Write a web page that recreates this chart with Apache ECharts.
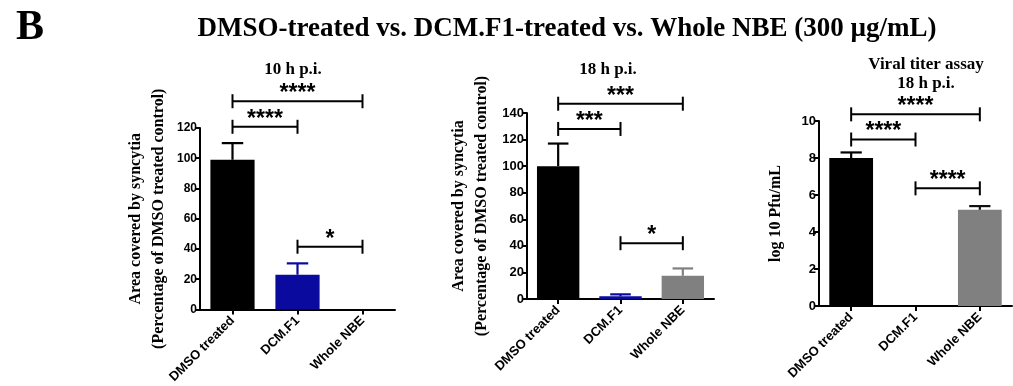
<!DOCTYPE html>
<html>
<head>
<meta charset="utf-8">
<script src="https://cdn.jsdelivr.net/npm/echarts@6/dist/echarts.min.js"></script>
<style>
html,body{margin:0;padding:0;background:#fff;}
#chart{width:1013px;height:386px;}
</style>
</head>
<body>
<div id="chart"></div>
<script>
// ---------- data ----------
var categories = ['DMSO treated', 'DCM.F1', 'Whole NBE'];

var p1Title = '10 h p.i.';
var p1Means = [99, 23, 0];
var p1Sem   = [11, 7.5, 0];
var p1Ticks = [0, 20, 40, 60, 80, 100, 120];
var p1Brackets = [[0, 2, 137.7], [0, 1, 120.8], [1, 2, 41.5]];
var p1Stars = ['****', '****', '*'];

var p2Title = '18 h p.i.';
var p2Means = [100, 2, 17.5];
var p2Sem   = [17, 1.5, 5.5];
var p2Ticks = [0, 20, 40, 60, 80, 100, 120, 140];
var p2Brackets = [[0, 2, 147], [0, 1, 128], [1, 2, 42]];
var p2Stars = ['***', '***', '*'];

var p3Title = 'Viral titer assay\n18 h p.i.';
var p3Means = [8.0, 0, 5.2];
var p3Sem   = [0.3, 0, 0.2];
var p3Ticks = [0, 2, 4, 6, 8, 10];
var p3Brackets = [[0, 2, 10.36], [0, 1, 9.0], [1, 2, 6.36]];
var p3Stars = ['****', '****', '****'];

var mainTitle = 'DMSO-treated vs. DCM.F1-treated vs. Whole NBE (300 \u00b5g/mL)';
var panelLetter = 'B';
var yName12 = 'Area covered by syncytia\n(Percentage of DMSO treated control)';
var yName3 = 'log 10 Pfu/mL';

// ---------- styles ----------
var barColors = ['#000000', '#0a0a9e', '#808080'];
var errColors1 = ['#000000', '#0a0a9e', '#808080'];
var errColors3 = ['#000000', '#0a0a9e', '#111111'];
var serif = '"Liberation Serif", "Times New Roman", serif';
var sans = '"Liberation Sans", Arial, sans-serif';

var chart = echarts.init(document.getElementById('chart'), null, {renderer: 'canvas'});

function barSeries(idx, means) {
  return {
    type: 'bar', xAxisIndex: idx, yAxisIndex: idx,
    barWidth: '68%',
    data: means.map(function (v, i) {
      return {value: v, itemStyle: {color: barColors[i]}};
    }),
    silent: true, animation: false
  };
}

function errSeries(idx, means, sem, colors) {
  return {
    type: 'custom', xAxisIndex: idx, yAxisIndex: idx,
    animation: false, silent: true, z: 3,
    data: means.map(function (v, i) { return [i, v, sem[i]]; }),
    renderItem: function (params, api) {
      var i = api.value(0), m = api.value(1), e = api.value(2);
      if (!e) return null;
      var p0 = api.coord([i, m]);
      var p1 = api.coord([i, m + e]);
      var half = api.size([1, 0])[0] * 0.165;
      var c = colors[i];
      return {
        type: 'group',
        children: [
          {type: 'line', shape: {x1: p0[0], y1: p0[1], x2: p1[0], y2: p1[1]}, style: {stroke: c, lineWidth: 2.2}},
          {type: 'line', shape: {x1: p1[0] - half, y1: p1[1], x2: p1[0] + half, y2: p1[1]}, style: {stroke: c, lineWidth: 2.2}}
        ]
      };
    }
  };
}

function bracketSeries(idx, brackets, stars) {
  return {
    type: 'custom', xAxisIndex: idx, yAxisIndex: idx,
    animation: false, silent: true, z: 4,
    data: brackets,
    renderItem: function (params, api) {
      var a = api.coord([api.value(0), api.value(2)]);
      var b = api.coord([api.value(1), api.value(2)]);
      var cap = 7;
      var st = {stroke: '#000', lineWidth: 2};
      return {
        type: 'group',
        children: [
          {type: 'line', shape: {x1: a[0], y1: a[1], x2: b[0], y2: b[1]}, style: st},
          {type: 'line', shape: {x1: a[0], y1: a[1] - cap, x2: a[0], y2: a[1] + cap}, style: st},
          {type: 'line', shape: {x1: b[0], y1: b[1] - cap, x2: b[0], y2: b[1] + cap}, style: st},
          {type: 'text', style: {
            text: stars[params.dataIndex], x: (a[0] + b[0]) / 2, y: a[1] + 4,
            textAlign: 'center', textVerticalAlign: 'bottom',
            fontSize: 23, fontWeight: 'bold', fontFamily: sans, fill: '#000'
          }}
        ]
      };
    }
  };
}

function xAxis(idx) {
  return {
    type: 'category', gridIndex: idx, data: categories,
    axisLine: {lineStyle: {color: '#000', width: 2}},
    axisTick: {show: true, alignWithLabel: true, length: 5, lineStyle: {color: '#000', width: 2}},
    axisLabel: {rotate: 45, interval: 0, margin: 9, color: '#000', fontSize: 13, fontWeight: 'bold', fontFamily: sans}
  };
}

function yAxis(idx, ticks, name, gap, labelSize) {
  return {
    type: 'value', gridIndex: idx,
    min: ticks[0], max: ticks[ticks.length - 1], interval: ticks[1] - ticks[0],
    name: name, nameLocation: 'middle', nameGap: gap, nameRotate: 90,
    nameTextStyle: {fontFamily: serif, fontWeight: 'bold', fontSize: 16, color: '#000', lineHeight: 23},
    axisLine: {show: true, lineStyle: {color: '#000', width: 2}},
    axisTick: {show: true, length: 5, lineStyle: {color: '#000', width: 2}},
    axisLabel: {margin: 3, color: '#000', fontSize: labelSize, fontFamily: sans, fontWeight: 'bold'},
    splitLine: {show: false}
  };
}

var option = {
  animation: false,
  backgroundColor: '#fff',
  title: [
    {text: panelLetter, left: 11, top: 2, textStyle: {fontFamily: serif, fontWeight: 'bold', fontSize: 42, color: '#000'}},
    {text: mainTitle, left: 562, top: 11, textAlign: 'center', textStyle: {fontFamily: serif, fontWeight: 'bold', fontSize: 27, color: '#000'}},
    {text: p1Title, left: 288, top: 56, textAlign: 'center', textStyle: {fontFamily: serif, fontWeight: 'bold', fontSize: 17, color: '#000'}},
    {text: p2Title, left: 603, top: 56, textAlign: 'center', textStyle: {fontFamily: serif, fontWeight: 'bold', fontSize: 17, color: '#000'}},
    {text: p3Title, left: 921, top: 50, textAlign: 'center', textStyle: {fontFamily: serif, fontWeight: 'bold', fontSize: 17, color: '#000', lineHeight: 19}}
  ],
  grid: [
    {left: 200, right: 618, top: 128, bottom: 75},
    {left: 527, right: 299, top: 113, bottom: 87},
    {left: 819, right: 1, top: 121, bottom: 80}
  ],
  xAxis: [xAxis(0), xAxis(1), xAxis(2)],
  yAxis: [yAxis(0, p1Ticks, yName12, 30, 12), yAxis(1, p2Ticks, yName12, 34, 13), yAxis(2, p3Ticks, yName3, 32, 13)],
  series: [
    barSeries(0, p1Means), errSeries(0, p1Means, p1Sem, errColors1), bracketSeries(0, p1Brackets, p1Stars),
    barSeries(1, p2Means), errSeries(1, p2Means, p2Sem, errColors1), bracketSeries(1, p2Brackets, p2Stars),
    barSeries(2, p3Means), errSeries(2, p3Means, p3Sem, errColors3), bracketSeries(2, p3Brackets, p3Stars)
  ]
};
chart.setOption(option);
</script>
</body>
</html>
